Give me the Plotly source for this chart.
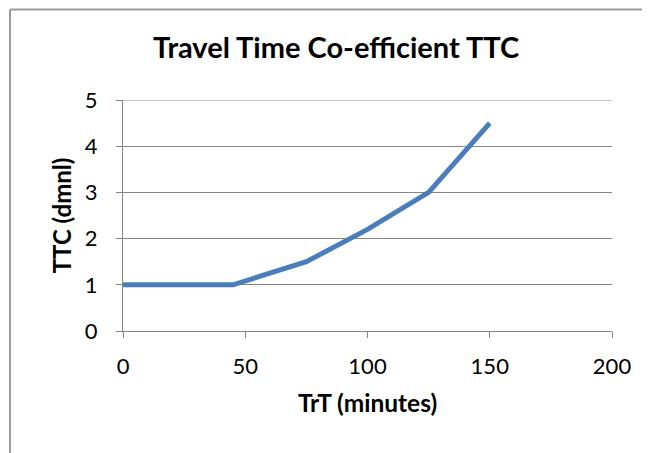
import plotly.graph_objects as go

trt_minutes = [0, 45, 75, 100, 125, 150]
ttc_values = [1, 1, 1.5, 2.2, 3, 4.5]

x_ticks = [0, 50, 100, 150, 200]
y_ticks = [0, 1, 2, 3, 4, 5]

FONT = "Lato, 'Open Sans', sans-serif"
GRID = "#868686"
FRAME = "#999999"

# the page body adds an 8px offset, so the figure is 8px smaller than the window
fig = go.Figure()
fig.add_trace(
    go.Scatter(
        x=trt_minutes,
        y=ttc_values,
        mode="lines",
        line={"color": "#4a7ebb", "width": 5},
        showlegend=False,
    )
)

fig.update_layout(
    width=642,
    height=445,
    paper_bgcolor="white",
    plot_bgcolor="white",
    margin={"l": 115, "r": 38, "t": 92, "b": 122, "autoexpand": False},
    font={"family": FONT, "color": "black", "size": 22},
    title={
        "text": "<b>Travel Time Co-efficient TTC</b>",
        "x": 0.511,
        "xanchor": "center",
        "y": 0.91,
        "yanchor": "middle",
        "font": {"size": 29, "family": FONT},
    },
    xaxis={
        "range": [0, 200],
        "tickvals": x_ticks,
        "showgrid": False,
        "zeroline": False,
        "showline": True,
        "linecolor": GRID,
        "linewidth": 1,
        "ticks": "outside",
        "ticklen": 6,
        "tickcolor": GRID,
        "ticklabelstandoff": 10,
        "automargin": False,
        "title": {"text": "<b>TrT (minutes)</b>", "font": {"size": 24.5}, "standoff": 16},
    },
    yaxis={
        "range": [0, 5],
        "tickvals": y_ticks,
        "showgrid": True,
        "gridcolor": GRID,
        "gridwidth": 1,
        "zeroline": False,
        "showline": True,
        "linecolor": GRID,
        "linewidth": 1,
        "ticks": "outside",
        "ticklen": 6,
        "tickcolor": GRID,
        "ticklabelstandoff": 14,
        "automargin": False,
        "title": {"text": "<b>TTC (dmnl)</b>", "font": {"size": 24}, "standoff": 6},
    },
)

# top gridline, which plotly leaves out at the end of the range
fig.add_shape(
    type="line",
    xref="paper",
    yref="y",
    x0=0,
    x1=1,
    y0=y_ticks[-1],
    y1=y_ticks[-1],
    line={"color": GRID, "width": 1},
    layer="below",
)

# outer chart frame: only the top and left edges show in the original
frame_left = (10 - 123) / 489
frame_right = (642 - 115) / 489
frame_top = (331 - 9.5) / 231
fig.add_shape(
    type="line", xref="paper", yref="paper",
    x0=frame_left, x1=frame_right, y0=frame_top, y1=frame_top,
    line={"color": FRAME, "width": 2}, layer="below",
)
fig.add_shape(
    type="line", xref="paper", yref="paper",
    x0=frame_left, x1=frame_left, y0=-0.53, y1=frame_top,
    line={"color": FRAME, "width": 2}, layer="below",
)

fig.write_html("out.html")
